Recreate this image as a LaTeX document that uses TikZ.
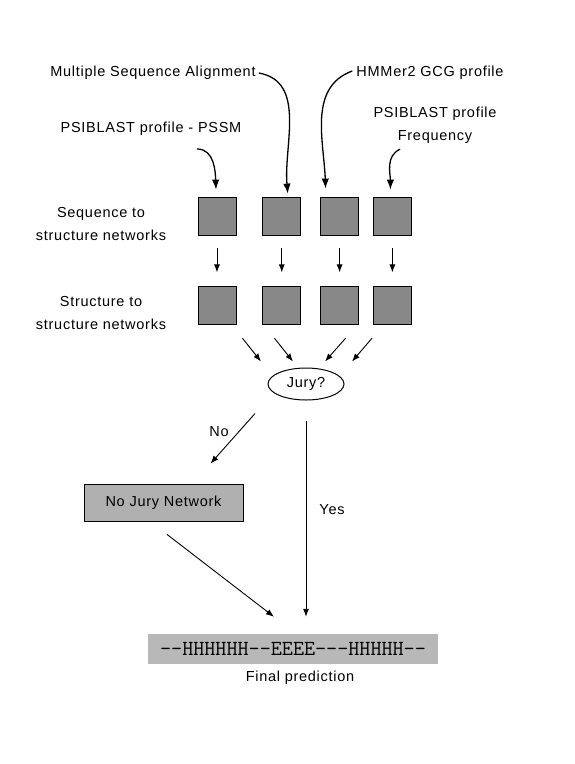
\documentclass[tikz,border=0pt]{standalone}
\usepackage{fontspec}
\setmainfont{Liberation Sans}[LetterSpace=5]
\usetikzlibrary{
  arrows.meta,
  positioning,
  shapes,
}
\tikzstyle{net} = [
  rectangle,
  draw,
  fill=netgray,
  minimum width=38,
  minimum height=38,
  inner sep=0,
  line width=0.8pt,
]
\tikzstyle{lbl} = [
  inner sep=0,
  align=center,
  font=\fontsize{14.5}{22.5}\selectfont,
]
\tikzstyle{arrow} = [
  -{Latex[length=8pt,width=6pt]},
  line width=0.9pt,
]
\tikzstyle{inarrow} = [
  -{Latex[length=10pt,width=7.5pt]},
  line width=1.3pt,
]
\definecolor{netgray}{RGB}{136,136,136}
\definecolor{juryfill}{RGB}{176,176,176}
\definecolor{predfill}{RGB}{184,184,184}

\begin{document}
\begin{tikzpicture}[x=1pt,y=-1pt,node distance=0pt and 0pt]
      \useasboundingbox (0,0) rectangle (574,764);

      % inputs
      \node[lbl] (msa)  at (153,73)  {Multiple Sequence Alignment};
      \node[lbl] (hmm)  at (430,73)  {HMMer2 GCG profile};
      \node[lbl] (pssm) at (151,129) {PSIBLAST profile - PSSM};
      \node[lbl] (freq) at (435,125) {PSIBLAST profile\\Frequency};

      % networks
      \node[lbl] (seqlbl) at (101,224) {Sequence to\\structure networks};
      \node[lbl] (strlbl) at (101,313) {Structure to\\structure networks};
      \node[net] (seq1) at (217,216) {};
      \node[net,xshift=26] (seq2) [right=of seq1] {};
      \node[net,xshift=19] (seq3) [right=of seq2] {};
      \node[net,xshift=14] (seq4) [right=of seq3] {};
      \node[net,yshift=-51] (str1) [below=of seq1] {};
      \node[net,yshift=-51] (str2) [below=of seq2] {};
      \node[net,yshift=-51] (str3) [below=of seq3] {};
      \node[net,yshift=-51] (str4) [below=of seq4] {};

      % jury and output
      \node[ellipse,draw,line width=1pt,minimum width=76,minimum height=32,inner sep=0,font=\fontsize{14.5}{17}\selectfont] (jury) at (306,384) {Jury?};
      \node[rectangle,draw,line width=0.8pt,fill=juryfill,minimum width=159,minimum height=37,font=\fontsize{14.5}{17}\selectfont] (nojury) at (163.5,502.5) {No Jury Network};
      \node[rectangle,fill=predfill,minimum width=290,minimum height=30,inner sep=0,font=\ttfamily\fontsize{21.5}{21.5}\selectfont] (pred) at (293,649) {--HHHHHH--EEEE---HHHHH--};
      \node[lbl] (predlbl) at (300,678) {Final prediction};
      \node[lbl] (no)  at (219,432) {No};
      \node[lbl] (yes) at (332,510) {Yes};

      \draw[inarrow] ([xshift=3]msa.east) to[out=-10,in=95] ([xshift=6,yshift=3]seq2.north);
      \draw[inarrow] ([xshift=-4,yshift=2]hmm.west) to[out=200,in=92] ([xshift=-14,yshift=8]seq3.north);
      \draw[inarrow] ([xshift=46,yshift=-13]pssm.south) to[out=0,in=92] ([xshift=-1,yshift=7]seq1.north);
      \draw[inarrow] ([xshift=-35,yshift=-6]freq.south) to[out=205,in=90] ([xshift=-2,yshift=7]seq4.north);

      \draw[arrow] ([yshift=-13]seq1.south) -- ([yshift=14]str1.north);
      \draw[arrow] ([yshift=-13]seq2.south) -- ([yshift=14]str2.north);
      \draw[arrow] ([yshift=-13]seq3.south) -- ([yshift=14]str3.north);
      \draw[arrow] ([yshift=-13]seq4.south) -- ([yshift=14]str4.north);

      \draw[arrow] ([shift={(6,13)}]str1.south east) -- ([shift={(-45,-6)}]jury.north);
      \draw[arrow] ([shift={(12,13)}]str2.south west) -- ([shift={(-13,-6)}]jury.north);
      \draw[arrow] ([shift={(6,13)}]str3.south) -- ([shift={(19,-6)}]jury.north);
      \draw[arrow] ([shift={(-1,13)}]str4.south west) -- ([shift={(46,-6)}]jury.north);

      \draw[arrow] ([shift={(-51,13)}]jury.south) -- ([shift={(47,-20)}]nojury.north);
      \draw[arrow] ([shift={(0,20)}]jury.south) -- ([shift={(13,-17)}]pred.north);
      \draw[arrow] ([shift={(3.5,13)}]nojury.south) -- ([shift={(-19,-17)}]pred.north);
    \end{tikzpicture}
\end{document}
